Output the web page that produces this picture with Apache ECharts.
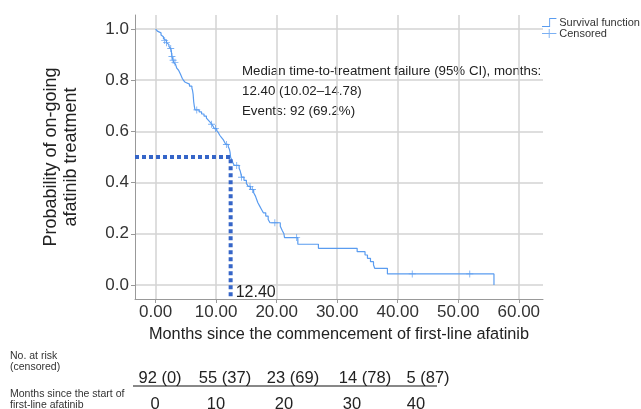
<!DOCTYPE html>
<html>
<head>
<meta charset="utf-8">
<script src="https://cdn.jsdelivr.net/npm/echarts@6/dist/echarts.min.js"></script>
<style>html,body{margin:0;padding:0;background:#fff}#c{width:641px;height:409px}</style>
</head>
<body>
<div id="c"></div>
<script>
// ---- data ----
const stepTimes = [0,0.3,0.6,0.9,1.1,1.3,1.5,1.8,2.0,2.2,2.5,2.6,2.65,2.7,2.9,3.0,3.3,3.5,3.8,4.1,4.4,4.6,4.9,5.2,5.6,6.0,6.1,6.2,6.25,6.3,6.4,6.5,7.2,7.6,8.0,8.4,8.7,9.0,9.3,9.5,9.7,10.1,10.4,10.6,10.9,11.2,11.4,11.6,12.0,12.2,12.3,12.4,12.6,12.8,13.0,13.8,14.0,14.1,14.2,14.6,15.0,15.3,15.7,16.2,16.5,16.7,16.9,17.2,17.5,17.8,18.2,18.6,18.9,20.6,20.9,21.2,21.3,23.5,26.9,33.3,34.6,35.0,35.5,36.0,36.2,38.3,55.9];
const stepSurv  = [1,.992,.985,.977,.970,.962,.955,.947,.940,.932,.924,.916,.901,.893,.878,.870,.862,.847,.839,.824,.808,.800,.792,.785,.777,.769,.761,.746,.730,.715,.699,.684,.676,.668,.660,.652,.644,.636,.628,.620,.611,.603,.594,.585,.576,.567,.558,.549,.540,.530,.519,.498,.488,.477,.467,.456,.444,.433,.421,.409,.397,.385,.373,.360,.347,.334,.321,.308,.295,.282,.269,.256,.243,.229,.214,.200,.185,.159,.143,.130,.117,.104,.091,.078,.065,.043,0];
const censorTimes = [1.5,1.8,2.5,2.7,2.9,3.2,6.8,9.25,9.9,11.7,13.4,14.2,15.6,16.0,19.7,23.3,42.4,51.9];
const censorSurv  = [.955,.947,.924,.893,.878,.870,.684,.628,.611,.549,.467,.421,.385,.373,.243,.185,.043,.043];
const xTicks = [0,10,20,30,40,50,60];
const yTicks = [0,0.2,0.4,0.6,0.8,1.0];
const medianTime = 12.40;
const medianSurv = 0.5;
const annotationLines = ['Median time-to-treatment failure (95% CI), months:', '12.40 (10.02\u201314.78)', 'Events: 92 (69.2%)'];
const atRiskLabels = ['92 (0)', '55 (37)', '23 (69)', '14 (78)', '5 (87)'];
const tableMonths = ['0', '10', '20', '30', '40'];

// ---- layout ----
const X_MIN = -3.4, X_MAX = 64, Y_MIN = -0.055, Y_MAX = 1.055;
const FONT = "'Liberation Sans', Arial, sans-serif";
const BLUE = '#5a9cf0';
const DARK = '#333';

const chart = echarts.init(document.getElementById('c'), null, {renderer: 'canvas'});

const stepPath = 'path://M0,9 L8,9 L8,0 L16,0 L16,1 L9,1 L9,10 L0,10 Z';
const plusPath = 'path://M0,4.5 L16,4.5 L16,5.5 L0,5.5 Z M7.5,0 L8.5,0 L8.5,10 L7.5,10 Z';
const censorMark = 'path://M0,3.5 L8,3.5 L8,4.5 L0,4.5 Z M3.5,0 L4.5,0 L4.5,8 L3.5,8 Z';

const graphics = [];
annotationLines.forEach((t, i) => {
  graphics.push({type: 'text', left: 242, top: 65 + i * 20, style: {text: t, font: '13.3px ' + FONT, fill: '#222'}});
});
const smallFont = '10.5px ' + FONT;
graphics.push({type: 'text', left: 10, top: 351, style: {text: 'No. at risk', font: smallFont, fill: DARK}});
graphics.push({type: 'text', left: 10, top: 362, style: {text: '(censored)', font: smallFont, fill: DARK}});
graphics.push({type: 'text', left: 10, top: 389, style: {text: 'Months since the start of', font: smallFont, fill: DARK}});
graphics.push({type: 'text', left: 10, top: 400, style: {text: 'first-line afatinib', font: smallFont, fill: DARK}});
const riskX = [160, 225, 293, 365, 428];
const monthX = [155, 216, 284, 352, 416];
atRiskLabels.forEach((t, i) => {
  graphics.push({type: 'text', x: riskX[i], y: 378, style: {text: t, font: '16.5px ' + FONT, fill: '#222', align: 'center', verticalAlign: 'middle'}});
});
tableMonths.forEach((t, i) => {
  graphics.push({type: 'text', x: monthX[i], y: 404, style: {text: t, font: '16.5px ' + FONT, fill: '#222', align: 'center', verticalAlign: 'middle'}});
});
graphics.push({type: 'line', shape: {x1: 133, y1: 386, x2: 437, y2: 386}, style: {stroke: '#111', lineWidth: 1}});

chart.setOption({
  animation: false,
  backgroundColor: '#fff',
  textStyle: {fontFamily: FONT},
  grid: {left: 135, right: 98, top: 15, bottom: 110, containLabel: false},
  legend: {
    orient: 'vertical', left: 537, top: 12, itemGap: 0, itemWidth: 16, itemHeight: 9,
    textStyle: {fontSize: 11, color: DARK, fontFamily: FONT, padding: [0, 0, 0, -3]},
    data: [{name: 'Survival function', icon: stepPath}, {name: 'Censored', icon: plusPath}]
  },
  xAxis: {
    type: 'value', min: X_MIN, max: X_MAX,
    name: 'Months since the commencement of first-line afatinib',
    nameLocation: 'middle', nameGap: 28,
    nameTextStyle: {fontSize: 16.3, color: '#222', fontFamily: FONT},
    axisLine: {show: true, onZero: false, lineStyle: {color: '#999', width: 1}},
    axisTick: {show: true, length: 4, customValues: xTicks, lineStyle: {color: '#999'}},
    axisLabel: {customValues: xTicks, formatter: v => v.toFixed(2), fontSize: 17, color: DARK, margin: 5},
    splitLine: {show: true, lineStyle: {color: '#d3d3d3', width: 1.5}}
  },
  yAxis: {
    type: 'value', min: Y_MIN, max: Y_MAX,
    name: 'Probability of on-going\nafatinib treatment',
    nameLocation: 'middle', nameGap: 54, nameRotate: 90,
    nameTextStyle: {fontSize: 18, color: '#222', lineHeight: 20, fontFamily: FONT},
    axisLine: {show: true, onZero: false, lineStyle: {color: '#999', width: 1}},
    axisTick: {show: true, length: 4, customValues: yTicks, lineStyle: {color: '#999'}},
    axisLabel: {customValues: yTicks, formatter: v => v.toFixed(1), fontSize: 17, color: DARK, margin: 6},
    splitLine: {show: true, lineStyle: {color: '#d3d3d3', width: 1.5}}
  },
  graphic: graphics,
  series: [
    {
      name: 'Survival function', type: 'line', step: 'end', showSymbol: false, symbol: 'none',
      color: BLUE, lineStyle: {color: BLUE, width: 1.2}, z: 3,
      data: stepTimes.map((t, i) => [t, stepSurv[i]])
    },
    {
      name: 'Censored', type: 'scatter', symbol: censorMark, symbolSize: 7,
      color: BLUE, itemStyle: {color: BLUE}, z: 4,
      data: censorTimes.map((t, i) => [t, censorSurv[i]])
    },
    {
      name: 'median', type: 'line', showSymbol: false, symbol: 'none', z: 5,
      lineStyle: {color: '#3565c8', width: 4, type: [4, 3]},
      data: [[X_MIN, medianSurv], [medianTime, medianSurv], [medianTime, Y_MIN]],
      markPoint: {
        symbol: 'circle', symbolSize: 0,
        label: {show: true, position: 'right', distance: 5, formatter: medianTime.toFixed(2), fontSize: 16, color: '#222', fontFamily: FONT},
        data: [{coord: [medianTime, -0.03]}]
      }
    }
  ]
});
</script>
</body>
</html>
